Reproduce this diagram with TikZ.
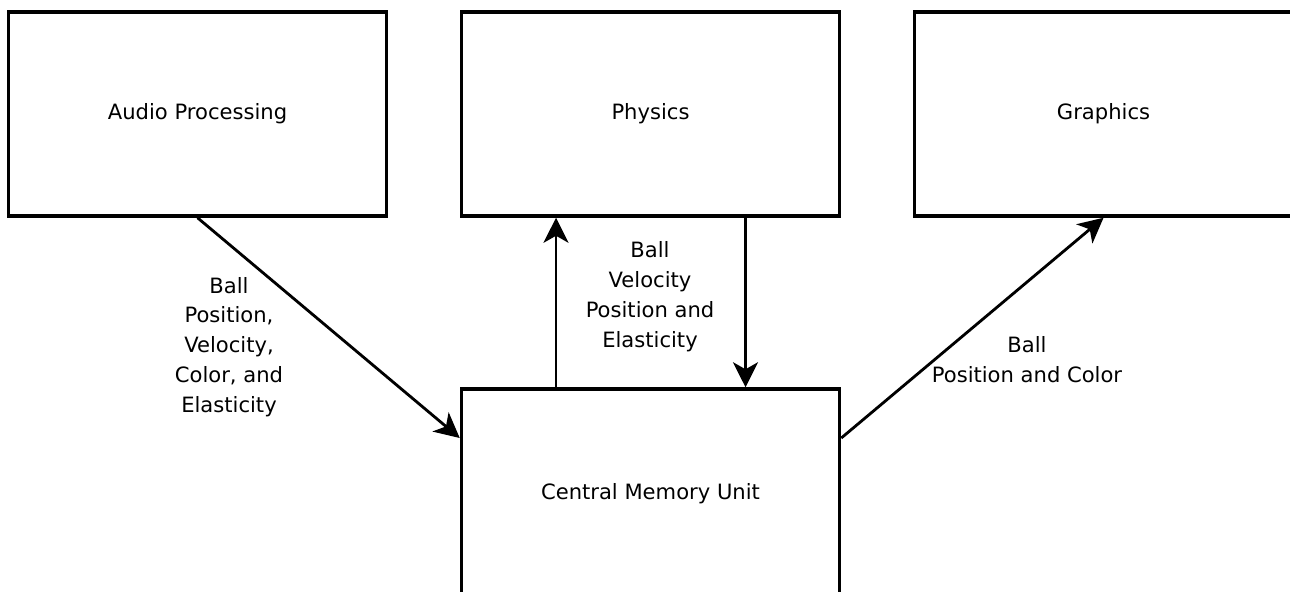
\documentclass[tikz,border=0pt]{standalone}
\usepackage{fontspec}
\setmainfont{DejaVu Sans}
\usepackage{tikz}
\usetikzlibrary{arrows.meta,calc,positioning}

\begin{document}
\begin{tikzpicture}[
      font=\fontsize{12}{17}\selectfont,
      blk/.style={draw=black,line width=2pt,minimum width=7.56cm,minimum height=4.08cm,align=center},
      lbl/.style={align=center,inner sep=0pt},
      flow/.style={line width=1.6pt,-{Stealth[length=0.5cm,width=0.5cm,inset=0.14cm]}}
    ]
      \path[use as bounding box,clip] (0,0) rectangle (25.8,-11.82);
      \node[blk] (au) at (3.95,-2.28) {Audio Processing};
      \node[blk,right=1.43cm of au] (ph) {Physics};
      \node[blk,right=1.43cm of ph] (gr) {Graphics};
      \node[blk,minimum height=4.2cm,below=3.39cm of ph] (cmu) {Central Memory Unit};
      \node[lbl] (aul) at (4.58,-6.94) {Ball\\Position,\\Velocity,\\Color, and\\Elasticity};
      \node[lbl] (phl) at (13.0,-5.93) {Ball\\Velocity\\Position and\\Elasticity};
      \node[lbl] (grl) at (20.54,-7.2) {Ball\\Position and Color};
      \draw[flow] (au.south) -- ([yshift=1.12cm]cmu.west);
      \draw[flow] ([xshift=-1.89cm]cmu.north) -- ([xshift=-1.89cm]ph.south);
      \draw[flow] ([xshift=1.9cm]ph.south) -- ([xshift=1.9cm]cmu.north);
      \draw[flow] ([yshift=1.12cm]cmu.east) -- (gr.south);
    \end{tikzpicture}
\end{document}
